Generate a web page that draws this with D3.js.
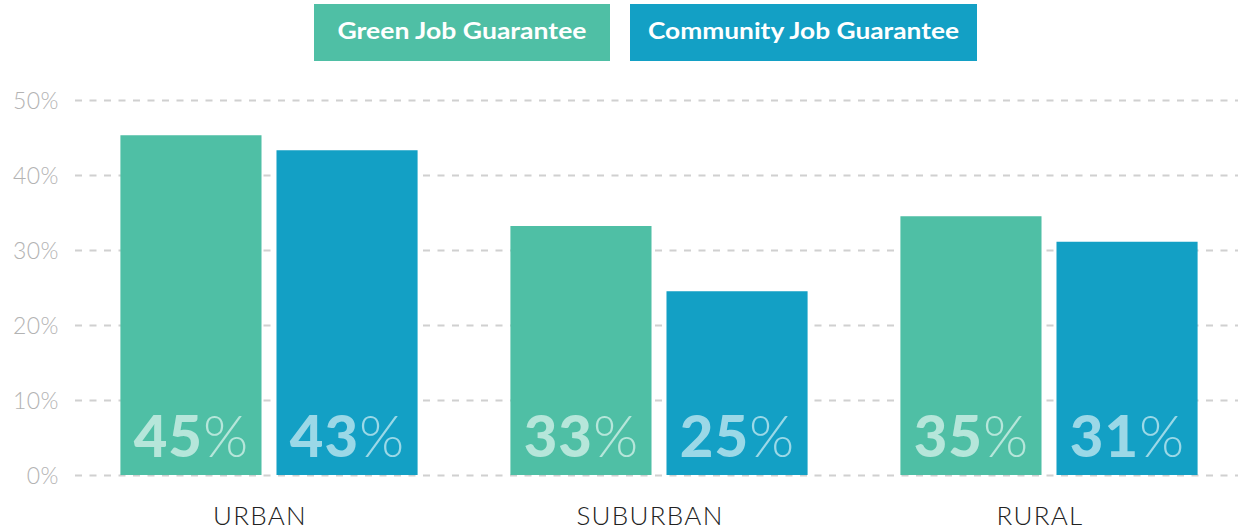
<!DOCTYPE html>
<html>
<head>
<meta charset="utf-8">
<script src="https://cdn.jsdelivr.net/npm/d3@7"></script>
<style>
  body { margin: 0; background: #fff; }
  svg { display: block; font-family: "Lato", "Open Sans", sans-serif; }
</style>
</head>
<body>
<div id="chart"></div>
<script>
const categories = ["URBAN", "SUBURBAN", "RURAL"]
const seriesNames = ["Green Job Guarantee", "Community Job Guarantee"]
const greenValues = [45.3, 33.2, 34.5]
const communityValues = [43.3, 24.5, 31.1]
const greenLabels = ["45", "33", "35"]
const communityLabels = ["43", "25", "31"]
const yTicks = [0, 10, 20, 30, 40, 50]

const width = 1238
const height = 531
const colors = ["#4fbfa5", "#13a0c5"]
const labelColors = ["#b6e6da", "#9bd8e7"]

const svg = d3.select("#chart").append("svg")
  .attr("width", width)
  .attr("height", height)

const y = d3.scaleLinear().domain([0, 50]).range([475, 100])

const x0 = d3.scaleBand()
  .domain(categories)
  .range([74, 1244])
  .paddingInner(0.238)
  .paddingOuter(0.119)

const x1 = d3.scaleBand()
  .domain(seriesNames)
  .range([0, x0.bandwidth()])
  .paddingInner(0.096)
  .paddingOuter(0)

// gridlines + tick labels
const yAxis = d3.axisLeft(y)
  .tickValues(yTicks)
  .tickSize(-(width - 75))
  .tickFormat(d => d + "%")

svg.append("g")
  .attr("transform", "translate(75,0)")
  .call(yAxis)
  .call(g => g.select(".domain").remove())
  .call(g => g.selectAll("line")
    .attr("stroke", "#d0d0d0")
    .attr("stroke-width", 2)
    .attr("stroke-dasharray", "7,7.5"))
  .call(g => g.selectAll("text")
    .attr("x", -16)
    .attr("dy", "0.35em")
    .attr("fill", "#b3b3b3")
    .style("font-size", "23px")
    .style("font-weight", 300)
    .style("letter-spacing", "0.5px")
    .style("font-family", "Lato, sans-serif"))

const rows = categories.map((c, i) => ({
  cat: c,
  vals: [
    { s: seriesNames[0], v: greenValues[i], lab: greenLabels[i], k: 0 },
    { s: seriesNames[1], v: communityValues[i], lab: communityLabels[i], k: 1 }
  ]
}))

const groups = svg.selectAll(".grp")
  .data(rows)
  .enter().append("g")
  .attr("class", "grp")
  .attr("transform", d => "translate(" + x0(d.cat) + ",0)")

groups.selectAll("rect")
  .data(d => d.vals)
  .enter().append("rect")
  .attr("x", d => x1(d.s))
  .attr("y", d => y(d.v))
  .attr("width", x1.bandwidth())
  .attr("height", d => y(0) - y(d.v))
  .attr("fill", d => colors[d.k])

const lbl = groups.selectAll(".val")
  .data(d => d.vals)
  .enter().append("text")
  .attr("class", "val")
  .attr("x", d => x1(d.s) + x1.bandwidth() / 2)
  .attr("y", 457)
  .attr("text-anchor", "middle")
  .attr("fill", d => labelColors[d.k])
  .style("font-size", "58px")

lbl.append("tspan")
  .style("font-weight", 900)
  .style("letter-spacing", "1px")
  .text(d => d.lab)
lbl.append("tspan")
  .style("font-weight", 300)
  .text("%")

// category labels (sit a little left of the group centre in the original)
svg.append("g")
  .selectAll("text")
  .data(categories)
  .enter().append("text")
  .attr("x", d => x0(d) + x0.bandwidth() / 2 - 9)
  .attr("y", 525)
  .attr("text-anchor", "middle")
  .attr("fill", "#222")
  .style("font-size", "26px")
  .style("font-weight", 300)
  .style("letter-spacing", "1.3px")
  .text(d => d)

// legend
const legend = [
  { name: seriesNames[0], x: 314, w: 296, tw: 249 },
  { name: seriesNames[1], x: 630, w: 347, tw: 311 }
]
const lg = svg.selectAll(".leg")
  .data(legend)
  .enter().append("g")
  .attr("class", "leg")

lg.append("rect")
  .attr("x", d => d.x)
  .attr("y", 4)
  .attr("width", d => d.w)
  .attr("height", 57)
  .attr("fill", (d, i) => colors[i])

lg.append("text")
  .attr("x", d => d.x + d.w / 2)
  .attr("y", 39)
  .attr("text-anchor", "middle")
  .attr("fill", "#fff")
  .attr("textLength", d => d.tw)
  .attr("lengthAdjust", "spacingAndGlyphs")
  .style("font-size", "22px")
  .style("font-weight", 700)
  .text(d => d.name)
</script>
</body>
</html>
